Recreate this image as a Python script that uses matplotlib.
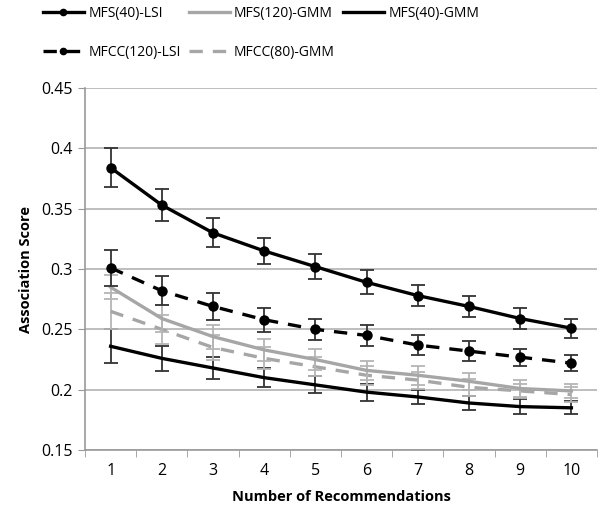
import matplotlib
matplotlib.use("Agg")
import matplotlib.pyplot as plt
import numpy as np

x = [1, 2, 3, 4, 5, 6, 7, 8, 9, 10]
mfs40_lsi = [0.384, 0.353, 0.330, 0.315, 0.302, 0.289, 0.278, 0.269, 0.259, 0.251]
mfs40_lsi_err = [0.016, 0.013, 0.012, 0.011, 0.0105, 0.010, 0.009, 0.009, 0.0085, 0.008]
mfcc120_lsi = [0.301, 0.282, 0.269, 0.258, 0.250, 0.245, 0.237, 0.232, 0.227, 0.222]
mfcc120_lsi_err = [0.015, 0.012, 0.011, 0.010, 0.009, 0.009, 0.008, 0.008, 0.007, 0.0066]
mfs120_gmm = [0.285, 0.259, 0.244, 0.233, 0.225, 0.216, 0.212, 0.207, 0.201, 0.199]
mfs120_gmm_err = [0.010, 0.011, 0.010, 0.009, 0.009, 0.008, 0.008, 0.007, 0.007, 0.006]
mfcc80_gmm = [0.265, 0.250, 0.235, 0.226, 0.219, 0.212, 0.208, 0.202, 0.199, 0.196]
mfcc80_gmm_err = [0.015, 0.012, 0.010, 0.009, 0.008, 0.008, 0.007, 0.007, 0.006, 0.006]
mfs40_gmm = [0.236, 0.226, 0.218, 0.210, 0.204, 0.198, 0.194, 0.189, 0.186, 0.185]
mfs40_gmm_err = [0.014, 0.0105, 0.009, 0.008, 0.007, 0.007, 0.006, 0.006, 0.006, 0.0055]

yticks = [0.15, 0.2, 0.25, 0.3, 0.35, 0.4, 0.45]
ytick_labels = ["0.15", "0.2", "0.25", "0.3", "0.35", "0.4", "0.45"]

plt.rcParams['font.family'] = ['Open Sans', 'DejaVu Sans']

fig = plt.figure(figsize=(6, 5.12), dpi=100)
ax = fig.add_axes([0.1417, 0.121, 0.8533, 0.707])

GRAY = '#a6a6a6'
ERR_DARK = '#333333'
ERR_LIGHT = '#b5b5b5'

def draw(y, err, color, ecolor, ls, marker, zorder, label):
    ax.errorbar(x, y, yerr=err, fmt='none', ecolor=ecolor, elinewidth=1.3,
                capsize=5, capthick=1.3, zorder=zorder - 1)
    h, = ax.plot(x, y, color=color, lw=2.4, ls=ls, marker=marker,
                 markersize=6.5 if marker else 0, zorder=zorder, label=label)
    return h

dash = (0, (4, 3))
h5 = draw(mfs40_gmm, mfs40_gmm_err, 'black', ERR_DARK, '-', None, 4, 'MFS(40)-GMM')
h4 = draw(mfcc80_gmm, mfcc80_gmm_err, GRAY, ERR_LIGHT, dash, None, 5, 'MFCC(80)-GMM')
h3 = draw(mfs120_gmm, mfs120_gmm_err, GRAY, ERR_LIGHT, '-', None, 6, 'MFS(120)-GMM')
h2 = draw(mfcc120_lsi, mfcc120_lsi_err, 'black', ERR_DARK, dash, 'o', 7, 'MFCC(120)-LSI')
h1 = draw(mfs40_lsi, mfs40_lsi_err, 'black', ERR_DARK, '-', 'o', 8, 'MFS(40)-LSI')

ax.set_xlim(0.5, 10.5)
ax.set_ylim(0.15, 0.45)
ax.set_yticks(yticks)
ax.set_yticklabels(ytick_labels)
ax.set_xticks(x)
ax.set_xticklabels([str(v) for v in x])
ax.set_xticks(np.arange(0.5, 11, 1), minor=True)
ax.tick_params(axis='x', which='major', length=0, pad=9, labelsize=11.5)
ax.tick_params(axis='x', which='minor', length=5, color='#999999', direction='out')
ax.tick_params(axis='y', length=5, color='#999999', direction='out', labelsize=11.5, pad=4)

ax.yaxis.grid(True, color='#b3b3b3', lw=1.2)
ax.set_axisbelow(True)
for s in ['top', 'right']:
    ax.spines[s].set_visible(False)
for s in ['left', 'bottom']:
    ax.spines[s].set_color('#999999')
    ax.spines[s].set_linewidth(1.2)

ax.set_xlabel('Number of Recommendations', fontsize=10.5, fontweight='bold', labelpad=8)
ax.set_ylabel('Association Score', fontsize=10.5, fontweight='bold', labelpad=6)

handles = [h1, h2, h3, h4, h5]
leg = fig.legend(handles=handles, labels=[h.get_label() for h in handles],
                 ncol=3, loc='upper left', bbox_to_anchor=(43 / 600, 1 - 6 / 512), frameon=False,
                 fontsize=10, handlelength=2.95, handletextpad=0.3, columnspacing=0.6,
                 labelspacing=1.7, borderpad=0, borderaxespad=0)
for lh in leg.legend_handles:
    lh.set_markersize(4.5)

fig.savefig('out.png', dpi=100)
